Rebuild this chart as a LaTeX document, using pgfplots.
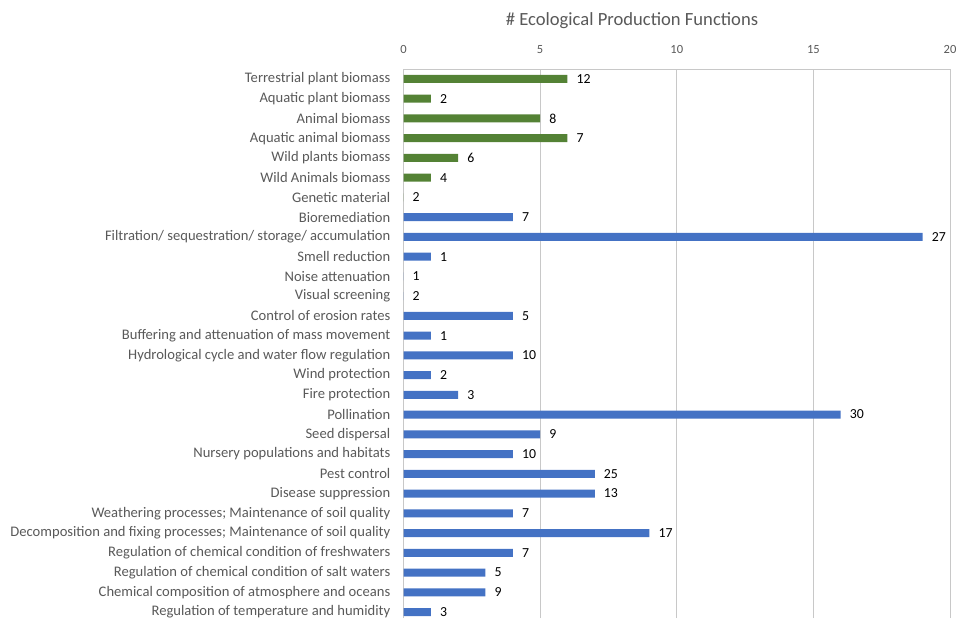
\documentclass[border=0pt]{standalone}
\usepackage{pgfplots}
\pgfplotsset{compat=1.18}
\usepackage{fontspec}
\setmainfont{Carlito}
\definecolor{bgreen}{HTML}{548235}
\definecolor{bblue}{HTML}{4472C4}
\definecolor{tgray}{HTML}{595959}
\definecolor{ggray}{HTML}{C8C8C8}
\begin{document}
\begin{tikzpicture}[x=1pt,y=1pt]
\path[use as bounding box] (0,0) rectangle (957,-618);
\node[font=\fontsize{18.6}{20}\selectfont, text=tgray] at (632,-21) {\# Ecological Production Functions};
\begin{axis}[
 at={(403.5pt,-618pt)}, anchor=south west,
 width=546.5pt, height=549pt, scale only axis,
 xbar, bar width=8pt, bar shift=0pt,
 xmin=0, xmax=20, ymin=-0.304, ymax=27.5,
 axis x line*=top, axis y line*=left,
 axis line style={draw=ggray, line width=0.8pt},
 xmajorgrids, grid style={draw=ggray, line width=0.8pt},
 xtick={0,5,10,15,20},
 ytick={0,...,27},
 yticklabels={Regulation of temperature and humidity,
 Chemical composition of atmosphere and oceans,
 Regulation of chemical condition of salt waters,
 Regulation of chemical condition of freshwaters,
 Decomposition and fixing processes; Maintenance of soil quality,
 Weathering processes; Maintenance of soil quality,
 Disease suppression,
 Pest control,
 Nursery populations and habitats,
 Seed dispersal,
 Pollination,
 Fire protection,
 Wind protection,
 Hydrological cycle and water flow regulation,
 Buffering and attenuation of mass movement,
 Control of erosion rates,
 Visual screening,
 Noise attenuation,
 Smell reduction,
 Filtration/ sequestration/ storage/ accumulation,
 Bioremediation,
 Genetic material,
 Wild Animals biomass,
 Wild plants biomass,
 Aquatic animal biomass,
 Animal biomass,
 Aquatic plant biomass,
 Terrestrial plant biomass},
 major tick length=0pt,
 /pgf/number format/assume math mode=true,
 xticklabel style={font=\fontsize{12.5}{13}\selectfont, text=tgray, yshift=12pt},
 yticklabel style={font=\fontsize{14.6}{15}\selectfont, text=tgray, inner sep=0pt, xshift=-13pt},
 nodes near coords, point meta=explicit symbolic,
 every node near coord/.append style={anchor=west, inner sep=0pt, xshift=9pt, font=\fontsize{13.8}{14}\selectfont, text=black},
]
\draw[ggray, line width=0.8pt] (rel axis cs:0,1) -- (rel axis cs:1,1);
\addplot[fill=bgreen, draw=none] table[x=v, y=y, meta=lab] {
y v lab
27 6 12
26 1 2
25 5 8
24 6 7
23 2 6
22 1 4
21 0 2
};
\addplot[fill=bblue, draw=none] table[x=v, y=y, meta=lab] {
y v lab
20 4 7
19 19 27
18 1 1
17 0 1
16 0 2
15 4 5
14 1 1
13 4 10
12 1 2
11 2 3
10 16 30
9 5 9
8 4 10
7 7 25
6 7 13
5 4 7
4 9 17
3 4 7
2 3 5
1 3 9
0 1 3
};
\end{axis}
\end{tikzpicture}
\end{document}
